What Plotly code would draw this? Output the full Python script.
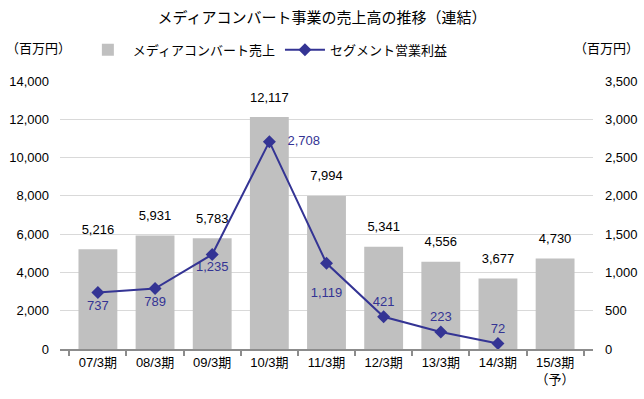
import plotly.graph_objects as go

categories = ["07/3期", "08/3期", "09/3期", "10/3期", "11/3期", "12/3期", "13/3期", "14/3期", "15/3期<br>（予）"]
sales = [5216, 5931, 5783, 12117, 7994, 5341, 4556, 3677, 4730]
profit_categories = categories[:8]
profit = [737, 789, 1235, 2708, 1119, 421, 223, 72]
profit_label_pos = ["bottom center", "bottom center", "bottom center", "middle right",
                    "bottom center", "top center", "top center", "top center"]

FONT = "Liberation Sans, Noto Sans CJK JP"
LINE = "#343494"


def profit_text(v, pos, i):
    s = f"{v:,}"
    if pos == "middle right":
        return "   " + s
    if i == 4:
        return " <br>" + s
    return s


fig = go.Figure()
fig.add_trace(go.Bar(
    x=categories, y=sales, name="メディアコンバート売上",
    marker=dict(color="#c0c0c0", line=dict(width=0)),
    hoverinfo="x+y",
))
# bar value labels
fig.add_trace(go.Scatter(
    x=categories, y=sales, mode="markers+text", showlegend=False, hoverinfo="skip",
    marker=dict(size=18, opacity=0),
    text=[f"{v:,}" for v in sales], textposition="top center",
    textfont=dict(size=13, color="#000000", family=FONT),
    cliponaxis=False,
))
fig.add_trace(go.Scatter(
    x=profit_categories, y=profit, name="セグメント営業利益", yaxis="y2",
    mode="lines+markers+text",
    line=dict(color=LINE, width=2),
    marker=dict(symbol="diamond", size=10, color=LINE),
    text=[profit_text(v, p, i) for i, (v, p) in enumerate(zip(profit, profit_label_pos))],
    textposition=profit_label_pos,
    textfont=dict(size=13, color=LINE, family=FONT),
    cliponaxis=False,
))

fig.update_layout(
    width=644, height=399,
    margin=dict(l=60, r=51, t=81, b=50, autoexpand=False),
    paper_bgcolor="white", plot_bgcolor="white",
    font=dict(family=FONT, size=13, color="#000000"),
    title=dict(text="メディアコンバート事業の売上高の推移（連結）", x=0.5, xanchor="center",
               y=0.955, yanchor="middle", font=dict(size=15, family=FONT, color="#000000")),
    bargap=0.32,
    showlegend=True,
    legend=dict(orientation="h", x=0.39, xanchor="center", yref="container", y=0.875, yanchor="middle",
                font=dict(size=13, family=FONT), itemwidth=40, bgcolor="rgba(0,0,0,0)"),
    xaxis=dict(showline=True, linecolor="#8c8c8c", linewidth=2, ticks="outside",
               tickson="boundaries", tickcolor="#8c8c8c", ticklen=5, tickwidth=2,
               tickfont=dict(size=13, family=FONT), showgrid=False, automargin=False),
    yaxis=dict(range=[0, 14000], dtick=2000, tickformat=",", showgrid=True,
               gridcolor="#d9d9d9", gridwidth=1, zeroline=False, showline=False,
               ticklabelstandoff=10, tickfont=dict(size=13, family=FONT), automargin=False),
    yaxis2=dict(range=[0, 3500], dtick=500, tickformat=",", overlaying="y", side="right",
                showgrid=False, zeroline=False, showline=False, ticklabelstandoff=11,
                tickfont=dict(size=13, family=FONT), automargin=False),
    annotations=[
        dict(text="（百万円）", xref="paper", yref="paper", x=-0.105, y=1.12,
             xanchor="left", yanchor="middle", showarrow=False, font=dict(size=13, family=FONT)),
        dict(text="（百万円）", xref="paper", yref="paper", x=1.09, y=1.12,
             xanchor="right", yanchor="middle", showarrow=False, font=dict(size=13, family=FONT)),
    ],
)

fig.write_html("out.html", config={"displayModeBar": False},
               post_script="document.body.style.margin='0';")
